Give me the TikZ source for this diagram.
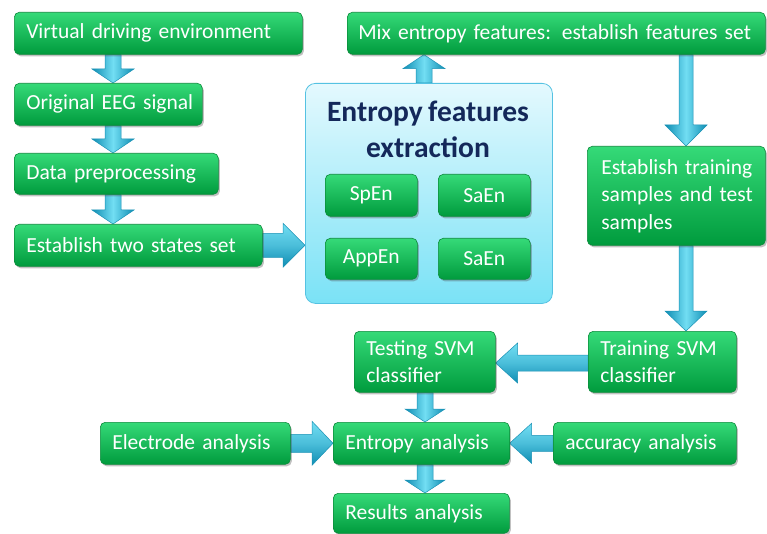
\documentclass[tikz,border=0pt]{standalone}
\usepackage{fontspec}
\setmainfont[WordSpace=0.8]{Carlito}
\usetikzlibrary{calc,shadows,backgrounds}
\definecolor{gtop}{HTML}{35DA78}
\definecolor{gbot}{HTML}{009B3D}
\definecolor{gborder}{HTML}{0B8A3A}
\definecolor{alight}{HTML}{72DEF3}
\definecolor{adark}{HTML}{0F8DB3}
\definecolor{aborder}{HTML}{1A92B5}
\definecolor{ptop}{HTML}{E4F9FE}
\definecolor{pbot}{HTML}{7AE2F6}
\definecolor{pborder}{HTML}{55C2E2}
\definecolor{titlec}{HTML}{14285A}
\newcommand\fatarrow[6][]{%
  \coordinate (faS) at #2;
  \coordinate (faE) at #3;
  \coordinate (faB) at ($(faE)!#6!(faS)$);
  \path[#1] ($(faS)!#4!90:(faE)$) -- ($(faB)!#4!90:(faE)$) -- ($(faB)!#5!90:(faE)$)
    -- (faE) -- ($(faB)!#5!-90:(faE)$) -- ($(faB)!#4!-90:(faE)$) -- ($(faS)!#4!-90:(faE)$) -- cycle;
}
\newcommand\oneline[1]{\mbox{#1}}
\begin{document}
\begin{tikzpicture}[x=1pt,y=-1pt,
  gbox/.style={draw=gborder, line width=0.6pt, rounded corners=5pt, top color=gtop, bottom color=gbot,
    text=white, font=\fontsize{21.5}{27.5}\selectfont, inner xsep=12pt, inner ysep=0pt,
    anchor=north west, align=left,
    drop shadow={shadow xshift=1.5pt, shadow yshift=-2pt, opacity=0.35, fill=black!70}},
  cbox/.style={gbox, align=center},
  panelbox/.style={draw=pborder, line width=0.8pt, rounded corners=10pt, top color=ptop, bottom color=pbot,
    anchor=north west, inner sep=0pt},
  titletext/.style={text=titlec, font=\fontsize{29.5}{36}\selectfont\bfseries, align=center},
  varrow/.style={draw=aborder, line width=0.5pt, left color=adark, right color=adark, middle color=alight},
  harrow/.style={draw=aborder, line width=0.5pt, top color=alight, bottom color=adark, middle color=alight!60!adark}
]
\useasboundingbox (0,0) rectangle (767,534);
% left column
\node[gbox, minimum width=288pt, minimum height=42pt, text width=264pt] (venv) at (14,12) {\oneline{Virtual driving environment}};
\node[gbox, minimum width=188pt, minimum height=42pt, text width=164pt] (eeg) at (14,83) {\oneline{Original EEG signal}};
\node[gbox, minimum width=204pt, minimum height=41pt, text width=180pt] (prep) at (14,153) {\oneline{Data preprocessing}};
\node[gbox, minimum width=248pt, minimum height=42pt, text width=224pt] (two) at (14,224) {\oneline{Establish two states set}};
% panel
\node[panelbox, minimum width=247pt, minimum height=220pt] (panel) at (305,83) {};
\node[titletext] (title) at (428,129) {Entropy features\\extraction};
\node[cbox, minimum width=92pt, minimum height=42pt, text width=68pt] (spen) at (325,174) {SpEn};
\node[cbox, minimum width=92pt, minimum height=42pt, text width=68pt] (saen) at (438,174) {SaEn};
\node[cbox, minimum width=92pt, minimum height=41pt, text width=68pt] (appen) at (325,238) {AppEn};
\node[cbox, minimum width=92pt, minimum height=41pt, text width=68pt] (saenb) at (438,238) {SaEn};
% right column
\node[gbox, minimum width=418pt, minimum height=42pt, text width=396pt, inner xsep=11pt] (mix) at (347,12) {\oneline{Mix entropy features: establish features set}};
\node[gbox, minimum width=178pt, minimum height=99pt, text width=150pt, inner xsep=14pt] (samples) at (587,146) {\oneline{Establish training}\\\oneline{samples and test}\\\oneline{samples}};
\node[gbox, minimum width=148pt, minimum height=61pt, text width=124pt] (trainsvm) at (588,331) {\oneline{Training SVM}\\\oneline{classifier}};
\node[gbox, minimum width=141pt, minimum height=61pt, text width=117pt] (testsvm) at (354,331) {\oneline{Testing SVM}\\\oneline{classifier}};
% bottom
\node[gbox, minimum width=190pt, minimum height=42pt, text width=166pt] (electrode) at (100,422) {\oneline{Electrode analysis}};
\node[gbox, minimum width=176pt, minimum height=42pt, text width=152pt] (entropy) at (333,422) {\oneline{Entropy analysis}};
\node[gbox, minimum width=183pt, minimum height=42pt, text width=159pt] (accuracy) at (553,422) {\oneline{accuracy analysis}};
\node[gbox, minimum width=176pt, minimum height=40pt, text width=152pt] (results) at (333,493) {\oneline{Results analysis}};
% arrows
\begin{scope}[on background layer]
\fatarrow[varrow]{(113,0 |- venv.south)}{(113,0 |- eeg.north)}{8pt}{21pt}{14pt}
\fatarrow[varrow]{(113,0 |- eeg.south)}{(113,0 |- prep.north)}{8pt}{21pt}{14pt}
\fatarrow[varrow]{(113,0 |- prep.south)}{(113,0 |- two.north)}{8pt}{21pt}{14pt}
\fatarrow[harrow]{(two.east)}{(panel.west |- two.east)}{12pt}{22pt}{22pt}
\fatarrow[varrow]{(424,0 |- panel.north)}{(424,0 |- mix.south)}{8pt}{21pt}{14pt}
\fatarrow[varrow]{(686,0 |- mix.south)}{(686,0 |- samples.north)}{7pt}{21pt}{21pt}
\fatarrow[varrow]{(686,0 |- samples.south)}{(686,0 |- trainsvm.north)}{7pt}{21pt}{20pt}
\fatarrow[harrow]{(trainsvm.west |- 0,363)}{(testsvm.east |- 0,363)}{8pt}{20pt}{22pt}
\fatarrow[varrow]{(425,0 |- testsvm.south)}{(425,0 |- entropy.north)}{8pt}{20pt}{13pt}
\fatarrow[harrow]{(electrode.east)}{(entropy.west)}{9pt}{22pt}{21pt}
\fatarrow[harrow]{(accuracy.west)}{(entropy.east)}{8pt}{20pt}{22pt}
\fatarrow[varrow]{(425,0 |- entropy.south)}{(425,0 |- results.north)}{8pt}{20pt}{13pt}
\end{scope}
\end{tikzpicture}
\end{document}
